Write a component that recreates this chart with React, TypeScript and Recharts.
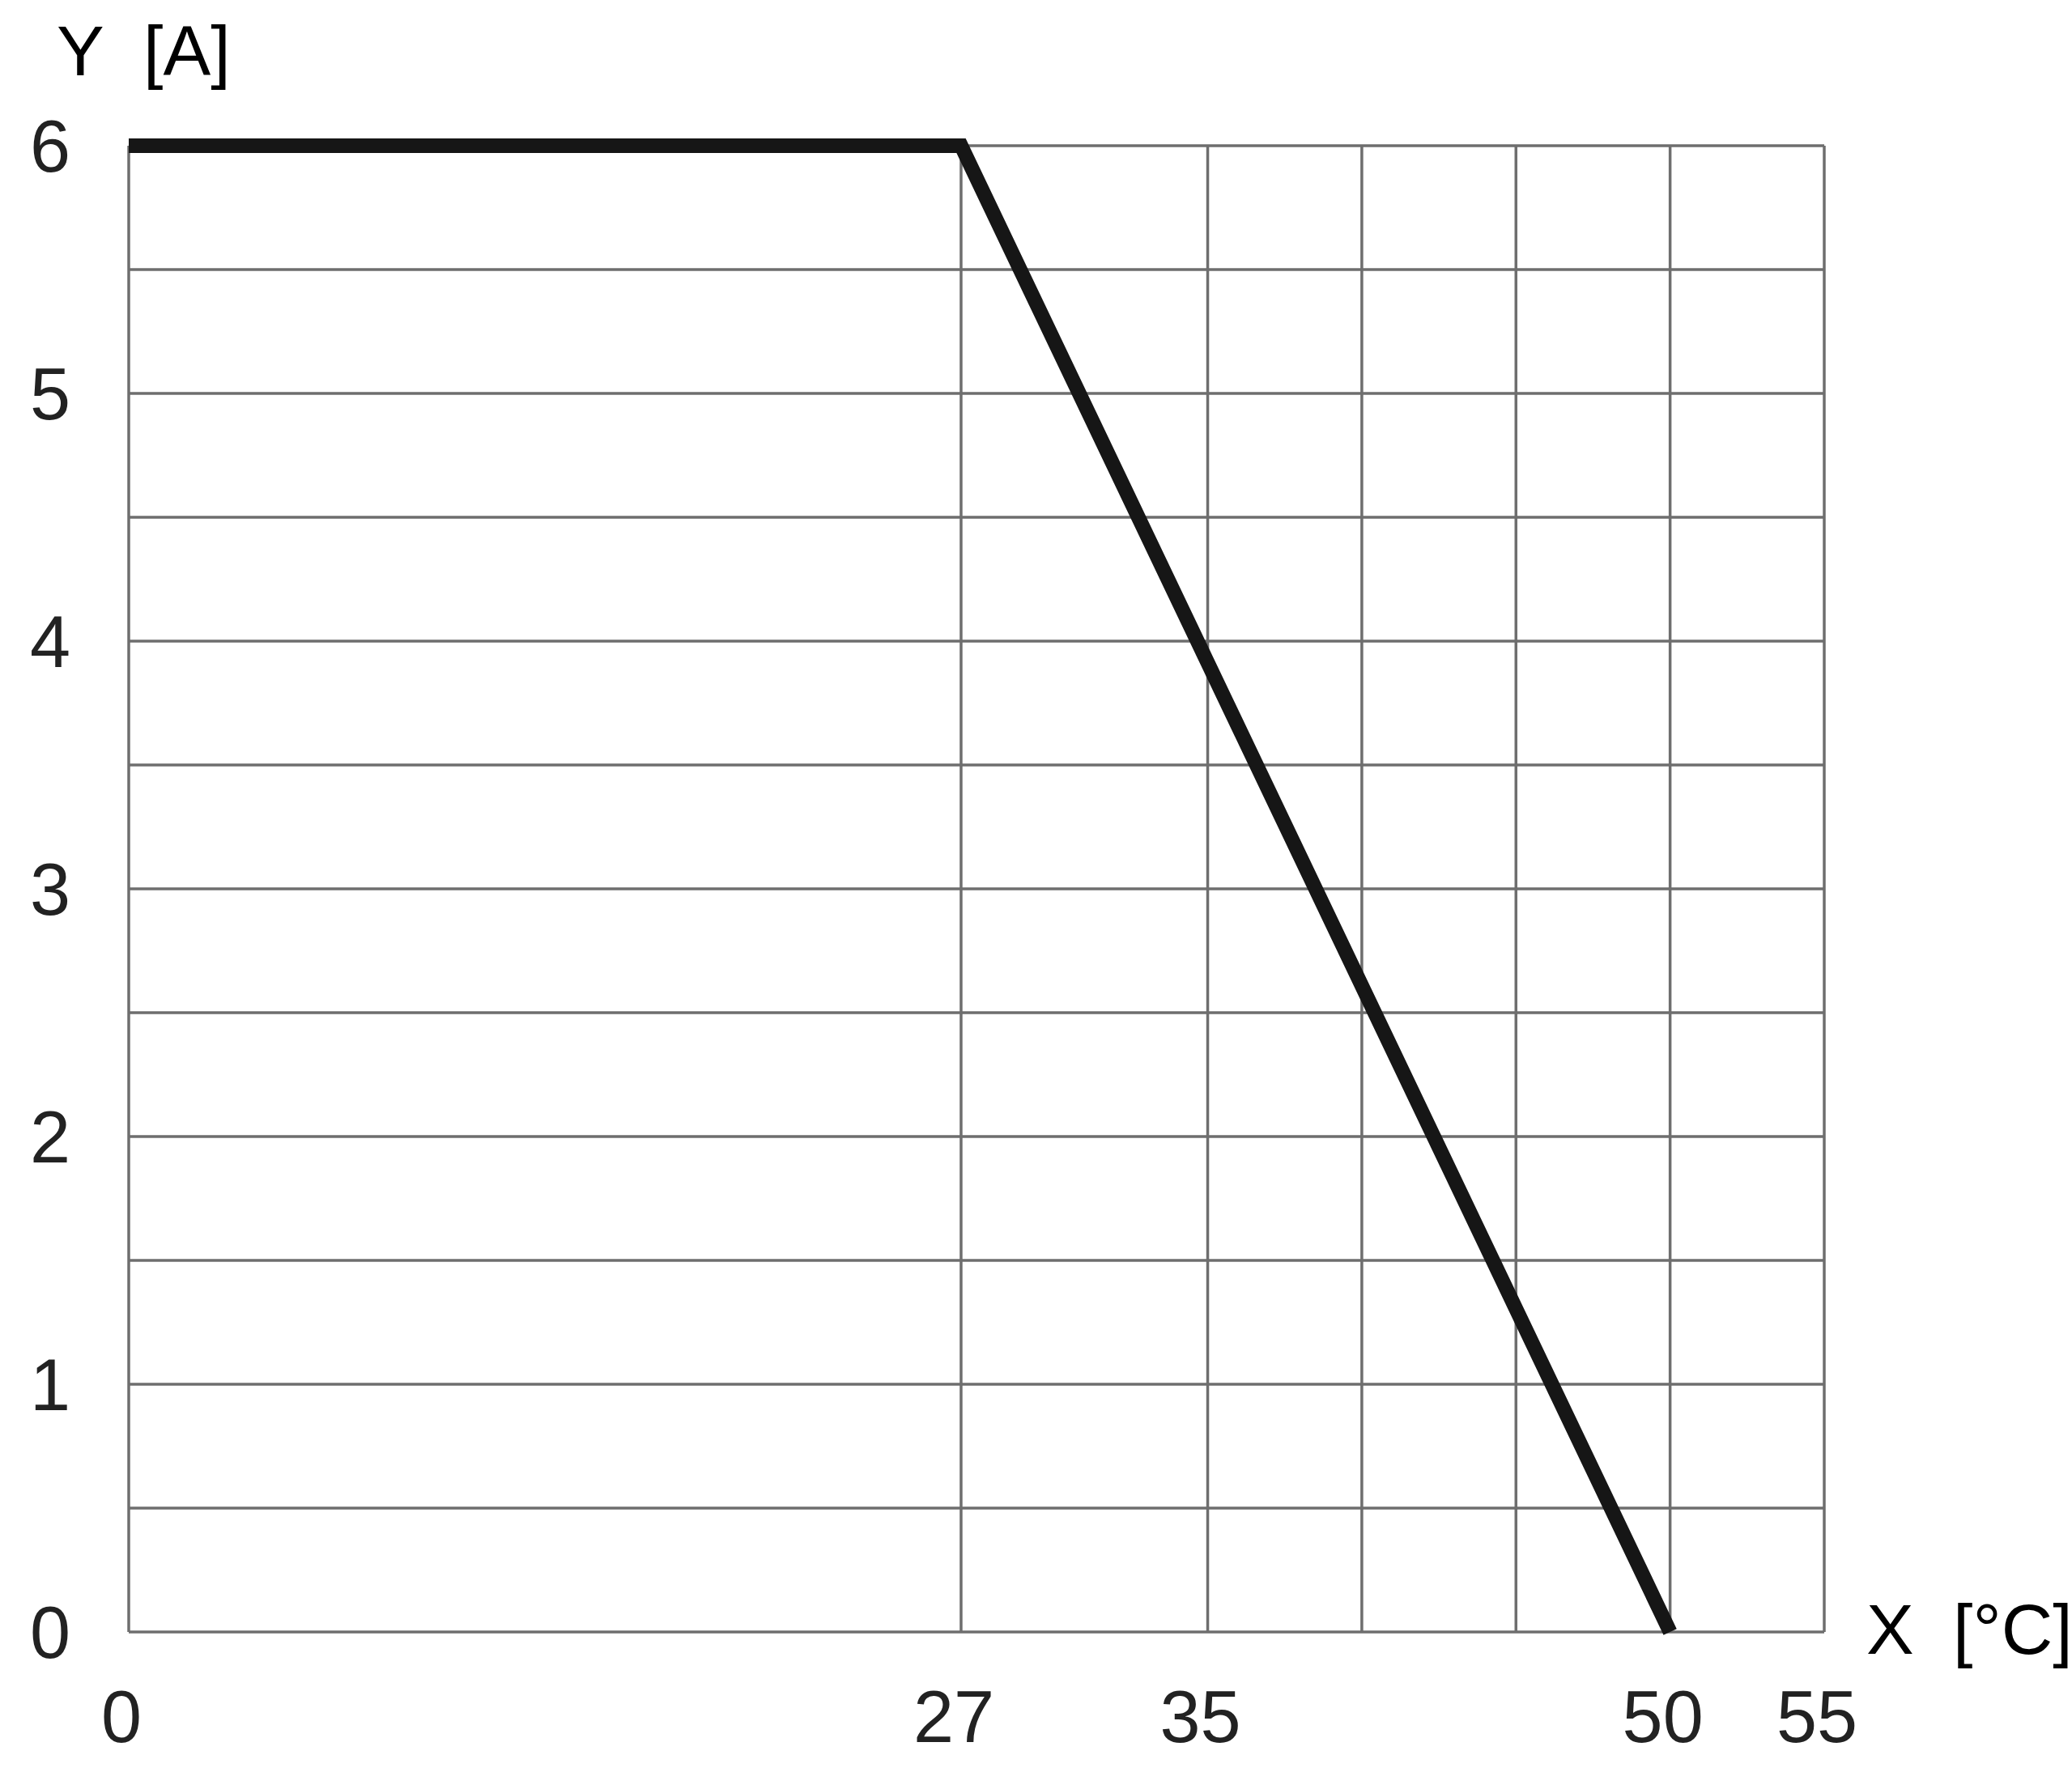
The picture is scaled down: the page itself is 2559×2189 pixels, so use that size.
import { LineChart, Line, XAxis, YAxis, CartesianGrid } from "recharts";

const curveX = [0, 27, 50];
const curveY = [6, 6, 0];

const xGridTicks = [0, 27, 35, 40, 45, 50, 55];
const xLabelTicks = [0, 27, 35, 50, 55];
const yGridTicks = [0, 0.5, 1, 1.5, 2, 2.5, 3, 3.5, 4, 4.5, 5, 5.5, 6];
const yLabelTicks = [0, 1, 2, 3, 4, 5, 6];

const data = curveX.map((x, i) => ({ x, y: curveY[i] }));

const FONT = "'Liberation Sans', Arial, Helvetica, sans-serif";
const GRID = "#6e6e6e";

function XTick({ x, y, payload }: { x?: number; y?: number; payload?: { value: number } }) {
  const v = payload?.value ?? 0;
  if (!xLabelTicks.includes(v)) return null;
  return (
    <text x={(x ?? 0) - 9} y={(y ?? 0) + 136} textAnchor="middle" fontSize={90} fontFamily={FONT} fill="#222">
      {v}
    </text>
  );
}

function YTick({ y, payload }: { y?: number; payload?: { value: number } }) {
  const v = payload?.value ?? 0;
  if (!yLabelTicks.includes(v)) return null;
  return (
    <text x={62} y={(y ?? 0) + 32} textAnchor="middle" fontSize={90} fontFamily={FONT} fill="#222">
      {v}
    </text>
  );
}

export default function App() {
  return (
    <div style={{ width: 2559, height: 2189, background: "#fff" }}>
      <style>{`body{margin:0}`}</style>
      <LineChart
        width={2559}
        height={2189}
        data={data}
        margin={{ top: 180, right: 306, bottom: 172, left: 158 }}
      >
        <CartesianGrid stroke={GRID} strokeWidth={3.5} />
        <XAxis
          type="number"
          dataKey="x"
          domain={[0, 55]}
          ticks={xGridTicks}
          axisLine={false}
          tickLine={false}
          tickSize={0}
          tickMargin={0}
          height={1}
          tick={<XTick />}
          label={{
            content: () => (
              <text y={2043} fontSize={88} fontFamily={FONT} fill="#000">
                <tspan x={2305}>X</tspan>
                <tspan x={2412}>[°C]</tspan>
              </text>
            ),
          }}
        />
        <YAxis
          type="number"
          domain={[0, 6]}
          ticks={yGridTicks}
          axisLine={false}
          tickLine={false}
          tickSize={0}
          tickMargin={0}
          width={1}
          tick={<YTick />}
          label={{
            content: () => (
              <text y={93} fontSize={88} fontFamily={FONT} fill="#000">
                <tspan x={70}>Y</tspan>
                <tspan x={177}>[A]</tspan>
              </text>
            ),
          }}
        />
        <Line
          type="linear"
          dataKey="y"
          stroke="#161616"
          strokeWidth={18}
          strokeLinejoin="miter"
          strokeLinecap="butt"
          dot={false}
          activeDot={false}
          isAnimationActive={false}
        />
      </LineChart>
    </div>
  );
}
